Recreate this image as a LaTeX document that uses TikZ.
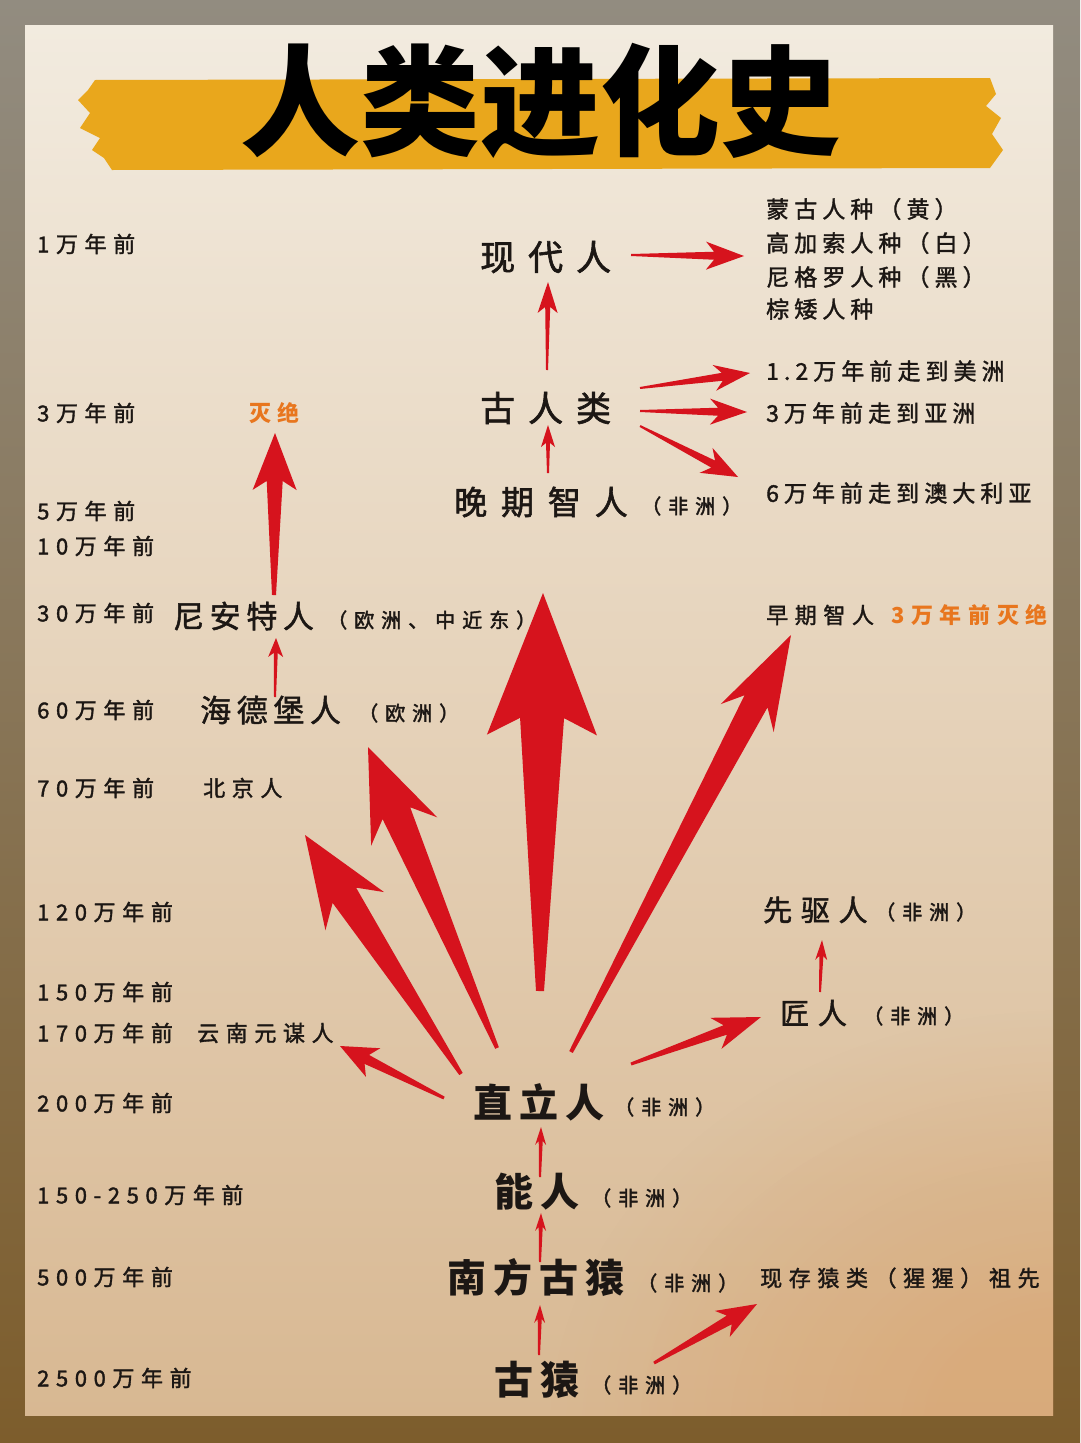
\documentclass[tikz,border=0pt]{standalone}
\usepackage{fontspec}
\newfontfamily\cjk{Noto Sans CJK SC}
\usetikzlibrary{calc,fadings}
\definecolor{arrowred}{HTML}{D6131D}
\definecolor{ink}{HTML}{1C1714}
\definecolor{orng}{HTML}{E8761E}
\definecolor{band}{HTML}{E9A71C}
\definecolor{frametop}{HTML}{928C80}
\definecolor{framebot}{HTML}{7D5D2C}
\definecolor{papertop}{HTML}{F2EBDF}
\definecolor{papermid}{HTML}{E9DCC6}
\definecolor{paperbot}{HTML}{D8B892}
\definecolor{papertint}{HTML}{D9A067}
\newcommand{\redarrow}[7]{% tail, tip, head length, join distance, head half width, shaft half width, tail half width
  \coordinate (qb) at ($(#2)!#3!(#1)$);
  \coordinate (qj) at ($(#2)!#4!(#1)$);
  \fill[arrowred] ($(#1)!#7!90:(#2)$) -- ($(qj)!#6!90:(#2)$) -- ($(qb)!#5!90:(#2)$) -- (#2)
     -- ($(qb)!#5!-90:(#2)$) -- ($(qj)!#6!-90:(#2)$) -- ($(#1)!#7!-90:(#2)$) -- cycle;
}
\begin{document}
\begin{tikzpicture}[x=1pt,y=-1pt,
  lbl/.style={anchor=west, inner sep=0pt, text=ink},
  timelbl/.style={lbl, font=\cjk\fontsize{22}{22}\selectfont\addfontfeatures{LetterSpace=30,FakeBold=1.6}},
  listlbl/.style={lbl, font=\cjk\fontsize{23}{23}\selectfont\addfontfeatures{LetterSpace=22,FakeBold=1.6}},
  smalllbl/.style={lbl, font=\cjk\fontsize{22}{22}\selectfont\addfontfeatures{LetterSpace=30,FakeBold=1.6}},
  bigname/.style={lbl, font=\cjk\bfseries\fontsize{39}{39}\selectfont\addfontfeature{LetterSpace=18}},
  topname/.style={lbl, font=\cjk\fontsize{35}{35}\selectfont\addfontfeatures{LetterSpace=37,FakeBold=1.8}},
  midname/.style={lbl, font=\cjk\fontsize{31}{31}\selectfont\addfontfeatures{LetterSpace=18,FakeBold=1.5}},
  rname/.style={lbl, font=\cjk\fontsize{29}{29}\selectfont\addfontfeatures{LetterSpace=30,FakeBold=1.8}},
  paren/.style={lbl, font=\cjk\fontsize{20}{20}\selectfont\addfontfeatures{LetterSpace=35,FakeBold=2}},
  extinct/.style={lbl, text=orng, font=\cjk\bfseries\fontsize{22}{22}\selectfont\addfontfeature{LetterSpace=30}},
  tint/.style={papertint, opacity=0.13, path fading=circle with fuzzy edge 20 percent}
]
\useasboundingbox (0,0) rectangle (1080,1443);
% frame and paper
\shade[top color=frametop, bottom color=framebot] (0,0) rectangle (1080,1443);
\shade[top color=papertop, middle color=papermid, bottom color=paperbot] (25,25) rectangle (1053,1415);
\begin{scope}
  \clip (25,25) rectangle (1053,1415);
  \fill[tint] (1070,1430) ellipse (520pt and 420pt);
  \fill[tint] (1070,1430) ellipse (430pt and 340pt);
  \fill[tint] (1070,1430) ellipse (340pt and 270pt);
  \fill[tint] (1070,1430) ellipse (250pt and 200pt);
  \fill[tint] (1070,1430) ellipse (170pt and 140pt);
\end{scope}
% title band
\fill[band] (95,80) -- (990,78) -- (996,94) -- (986,106) -- (1001,118) -- (992,134) -- (1003,150) -- (990,168)
  -- (112,170) -- (104,158) -- (92,150) -- (100,138) -- (80,128) -- (90,113) -- (78,100) -- (88,90) -- cycle;
\node[inner sep=0pt, text=black, font=\cjk\bfseries\fontsize{120}{120}\selectfont] (title) at (540,101) {人类进化史};

% time labels
\node[timelbl] (t1) at (37,244) {1万年前};
\node[timelbl] (t3) at (37,413) {3万年前};
\node[timelbl] (t5) at (37,511) {5万年前};
\node[timelbl] (t10) at (37,546) {10万年前};
\node[timelbl] (t30) at (37,613) {30万年前};
\node[timelbl] (t60) at (37,710) {60万年前};
\node[timelbl] (t70) at (37,788) {70万年前};
\node[timelbl] (t120) at (37,912) {120万年前};
\node[timelbl] (t150) at (37,992) {150万年前};
\node[timelbl] (t170) at (37,1033) {170万年前};
\node[timelbl] (t200) at (37,1103) {200万年前};
\node[timelbl] (t250) at (37,1195) {150-250万年前};
\node[timelbl] (t500) at (37,1277) {500万年前};
\node[timelbl] (t2500) at (37,1378) {2500万年前};

% main column
\node[topname] (xiandai) at (480,257) {现代人};
\node[topname] (guren) at (480,408) {古人类};
\node[lbl, font=\cjk\fontsize{33}{33}\selectfont\addfontfeatures{LetterSpace=42,FakeBold=1.8}] (wanqi) at (454,502) {晚期智人};
\node[paren] (wanqiP) at (641,506) {（非洲）};
\node[bigname] (zhili) at (473,1102) {直立人};
\node[paren] (zhiliP) at (614,1107) {（非洲）};
\node[bigname] (neng) at (494,1192) {能人};
\node[paren] (nengP) at (591,1198) {（非洲）};
\node[bigname] (nanfang) at (447,1278) {南方古猿};
\node[paren] (nanfangP) at (637,1283) {（非洲）};
\node[bigname] (guyuan) at (494,1380) {古猿};
\node[paren] (guyuanP) at (591,1385) {（非洲）};

% left branch
\node[extinct] (miejue) at (249,413) {灭绝};
\node[midname] (nian) at (173,616) {尼安特人};
\node[paren] (nianP) at (327,620) {（欧洲、中近东）};
\node[midname] (haide) at (200,710) {海德堡人};
\node[paren] (haideP) at (358,713) {（欧洲）};
\node[smalllbl] (beijing) at (203,788) {北京人};
\node[smalllbl] (yuanmou) at (197,1033) {云南元谋人};

% right branch
\node[listlbl] (r1) at (766,209) {蒙古人种（黄）};
\node[listlbl] (r2) at (766,243) {高加索人种（白）};
\node[listlbl] (r3) at (766,277) {尼格罗人种（黑）};
\node[listlbl] (r4) at (766,309) {棕矮人种};
\node[listlbl] (m1) at (766,371) {1.2万年前走到美洲};
\node[listlbl] (m2) at (766,413) {3万年前走到亚洲};
\node[listlbl] (m3) at (766,493) {6万年前走到澳大利亚};
\node[smalllbl] (zaoqi) at (766,615) {早期智人};
\node[extinct] (zaoqiX) at (891,615) {3万年前灭绝};
\node[rname] (xianqu) at (763,910) {先驱人};
\node[paren] (xianquP) at (875,912) {（非洲）};
\node[rname] (jiang) at (780,1013) {匠人};
\node[paren] (jiangP) at (863,1016) {（非洲）};
\node[smalllbl] (xiancun) at (760,1278) {现存猿类（猩猩）祖先};

% arrow end points
\coordinate (a1t) at (631,255);  \coordinate (a1h) at (744,256);
\coordinate (a2t) at (640,388);  \coordinate (a2h) at (750,373);
\coordinate (a3t) at (640,411);  \coordinate (a3h) at (747,412);
\coordinate (a4t) at (640,426);  \coordinate (a4h) at (738,477);
\coordinate (a5t) at (547,370);  \coordinate (a5h) at (548,282);
\coordinate (a6t) at (548,473);  \coordinate (a6h) at (548,425);
\coordinate (a7t) at (274,595);  \coordinate (a7h) at (275,433);
\coordinate (a8t) at (275,697);  \coordinate (a8h) at (276,638);
\coordinate (a9t) at (444,1098); \coordinate (a9h) at (340,1046);
\coordinate (a10t) at (461,1074); \coordinate (a10h) at (305,835);
\coordinate (a11t) at (497,1048); \coordinate (a11h) at (368,747);
\coordinate (a12t) at (540,991);  \coordinate (a12h) at (543,593);
\coordinate (a13t) at (571,1052); \coordinate (a13h) at (791,635);
\coordinate (a14t) at (631,1064); \coordinate (a14h) at (761,1017);
\coordinate (a15t) at (820,992);  \coordinate (a15h) at (822,940);
\coordinate (a16t) at (540,1177); \coordinate (a16h) at (541,1127);
\coordinate (a17t) at (540,1262); \coordinate (a17h) at (541,1213);
\coordinate (a18t) at (539,1355); \coordinate (a18h) at (540,1305);
\coordinate (a19t) at (654,1363); \coordinate (a19h) at (757,1304);

% arrows
\redarrow{a1t}{a1h}{38pt}{30pt}{14pt}{4pt}{1pt}
\redarrow{a2t}{a2h}{36pt}{28pt}{13pt}{4pt}{1pt}
\redarrow{a3t}{a3h}{37pt}{29pt}{13pt}{4pt}{1pt}
\redarrow{a4t}{a4h}{36pt}{28pt}{14pt}{4pt}{1pt}
\redarrow{a5t}{a5h}{31pt}{25pt}{10pt}{2.5pt}{1pt}
\redarrow{a6t}{a6h}{22pt}{18pt}{7pt}{2pt}{1pt}
\redarrow{a7t}{a7h}{57pt}{48pt}{22pt}{8pt}{2pt}
\redarrow{a8t}{a8h}{19pt}{15pt}{7.5pt}{2pt}{1pt}
\redarrow{a9t}{a9h}{37pt}{30pt}{16pt}{5pt}{1.5pt}
\redarrow{a10t}{a10h}{91pt}{72pt}{35pt}{14pt}{2pt}
\redarrow{a11t}{a11h}{92pt}{72pt}{36pt}{15pt}{2pt}
\redarrow{a12t}{a12h}{142pt}{125pt}{55pt}{22pt}{4pt}
\redarrow{a13t}{a13h}{94pt}{75pt}{30pt}{13pt}{2pt}
\redarrow{a14t}{a14h}{48pt}{38pt}{16.5pt}{5pt}{1.5pt}
\redarrow{a15t}{a15h}{20pt}{16pt}{6pt}{2pt}{1pt}
\redarrow{a16t}{a16h}{18pt}{14pt}{5.5pt}{2pt}{1pt}
\redarrow{a17t}{a17h}{18pt}{14pt}{5.5pt}{2pt}{1pt}
\redarrow{a18t}{a18h}{18pt}{14pt}{5.5pt}{2pt}{1pt}
\redarrow{a19t}{a19h}{40pt}{32pt}{15pt}{5pt}{1.5pt}
\end{tikzpicture}
\end{document}
